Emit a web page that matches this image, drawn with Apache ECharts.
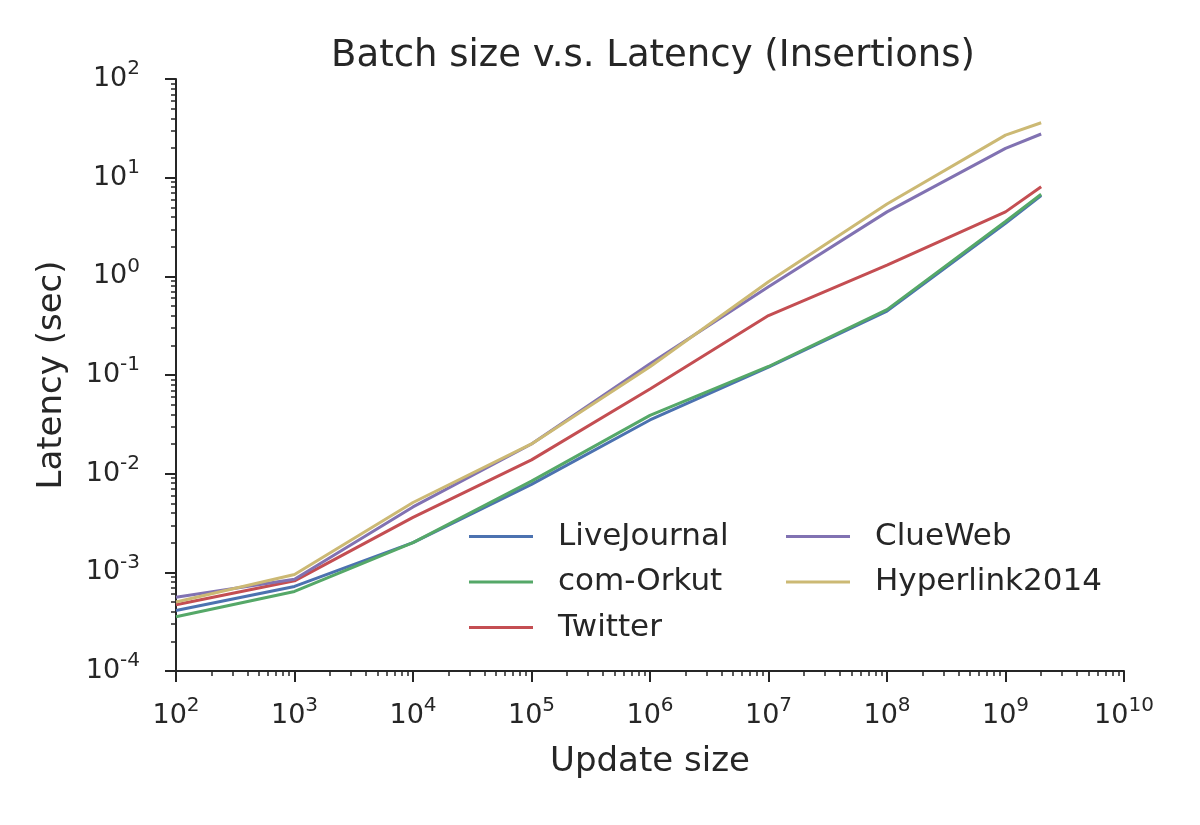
<!DOCTYPE html>
<html>
<head>
<meta charset="utf-8">
<script src="https://cdn.jsdelivr.net/npm/echarts@6/dist/echarts.min.js"></script>
<style>
  html, body { margin: 0; padding: 0; background: #fff; }
  #chart { width: 1200px; height: 825px; }
</style>
</head>
<body>
<div id="chart"></div>
<script>
// update sizes (x) and latency in seconds (y) per dataset
const updateSizes = [1e2, 1e3, 1e4, 1e5, 1e6, 1e7, 1e8, 1e9, 2e9];
const liveJournal = [4.1e-4, 7.2e-4, 2.0e-3, 7.8e-3, 0.035, 0.12, 0.445, 3.45, 6.6];
const comOrkut = [3.55e-4, 6.4e-4, 2.0e-3, 8.4e-3, 0.039, 0.122, 0.46, 3.6, 6.8];
const twitter = [4.7e-4, 8.2e-4, 3.6e-3, 0.0138, 0.072, 0.40, 1.3, 4.5, 8.1];
const clueWeb = [5.6e-4, 8.5e-4, 4.6e-3, 0.02, 0.13, 0.785, 4.5, 19.8, 27.7];
const hyperlink = [5.0e-4, 9.5e-4, 5.1e-3, 0.02, 0.121, 0.88, 5.4, 27, 36];

const seriesNames = ['LiveJournal', 'com-Orkut', 'Twitter', 'ClueWeb', 'Hyperlink2014'];
const seriesValues = [liveJournal, comOrkut, twitter, clueWeb, hyperlink];
const colors = ['#4C72B0', '#55A868', '#C44E52', '#8172B2', '#CCB974'];

const textColor = '#262626';
const fontFamily = 'DejaVu Sans';

// minor log ticks 2..9 per decade
function minorTicks(fromExp, toExp) {
  let out = [];
  for (let e = fromExp; e < toExp; e++) {
    for (let m = 2; m <= 9; m++) out.push(m * Math.pow(10, e));
  }
  return out;
}

function powLabel(v) {
  let e = Math.round(Math.log10(v));
  return '{b|10}{s|' + e + '}';
}

const richPow = {
  b: {fontSize: 27, lineHeight: 40, color: textColor, fontFamily: fontFamily},
  s: {fontSize: 20, lineHeight: 19, verticalAlign: 'top', color: textColor, fontFamily: fontFamily}
};

let chart = echarts.init(document.getElementById('chart'));

let series = seriesNames.map((name, i) => ({
  name: name,
  type: 'line',
  data: updateSizes.map((x, j) => [x, seriesValues[i][j]]),
  showSymbol: false,
  symbol: 'none',
  lineStyle: {width: 3, color: colors[i]},
  itemStyle: {color: colors[i]},
  xAxisIndex: 0,
  yAxisIndex: 0
}));

const axisLineStyle = {color: textColor, width: 2};
const legendText = {fontSize: 31, color: textColor, fontFamily: fontFamily, padding: [0, 0, 0, 20]};

chart.setOption({
  animation: false,
  backgroundColor: '#fff',
  title: {
    text: 'Batch size v.s. Latency (Insertions)',
    left: 648,
    textAlign: 'center',
    top: 33,
    textStyle: {fontSize: 37, fontWeight: 'normal', color: textColor, fontFamily: fontFamily}
  },
  grid: {left: 176, right: 76, top: 79, bottom: 154},
  legend: [
    {
      data: seriesNames.slice(0, 3),
      orient: 'vertical',
      left: 469,
      top: 521,
      padding: 0,
      itemWidth: 64,
      itemHeight: 3,
      itemGap: 14.5,
      icon: 'rect',
      textStyle: legendText
    },
    {
      data: seriesNames.slice(3),
      orient: 'vertical',
      left: 786,
      top: 521,
      padding: 0,
      itemWidth: 64,
      itemHeight: 3,
      itemGap: 14.5,
      icon: 'rect',
      textStyle: legendText
    }
  ],
  xAxis: [
    {
      type: 'log',
      logBase: 10,
      min: 1e2,
      max: 1e10,
      splitNumber: 8,
      name: 'Update size',
      nameLocation: 'middle',
      nameGap: 74,
      nameTextStyle: {fontSize: 34, color: textColor, fontFamily: fontFamily},
      axisLine: {show: true, lineStyle: axisLineStyle},
      axisTick: {show: true, inside: false, length: 11, lineStyle: axisLineStyle},
      axisLabel: {formatter: powLabel, rich: richPow, margin: 25},
      splitLine: {show: false}
    },
    {
      type: 'log',
      logBase: 10,
      min: 1e2,
      max: 1e10,
      position: 'bottom',
      axisLine: {show: false},
      axisTick: {show: true, inside: false, length: 5, customValues: minorTicks(2, 10), lineStyle: {color: textColor, width: 1.5}},
      axisLabel: {show: false},
      splitLine: {show: false}
    }
  ],
  yAxis: [
    {
      type: 'log',
      logBase: 10,
      min: 1e-4,
      max: 1e2,
      splitNumber: 6,
      name: 'Latency (sec)',
      nameLocation: 'middle',
      nameGap: 107,
      nameTextStyle: {fontSize: 34, color: textColor, fontFamily: fontFamily},
      axisLine: {show: true, lineStyle: axisLineStyle},
      axisTick: {show: true, inside: false, length: 11, lineStyle: axisLineStyle},
      axisLabel: {formatter: powLabel, rich: richPow, margin: 36},
      splitLine: {show: false}
    },
    {
      type: 'log',
      logBase: 10,
      min: 1e-4,
      max: 1e2,
      position: 'left',
      axisLine: {show: false},
      axisTick: {show: true, inside: false, length: 5, customValues: minorTicks(-4, 2), lineStyle: {color: textColor, width: 1.5}},
      axisLabel: {show: false},
      splitLine: {show: false}
    }
  ],
  series: series
});
</script>
</body>
</html>
